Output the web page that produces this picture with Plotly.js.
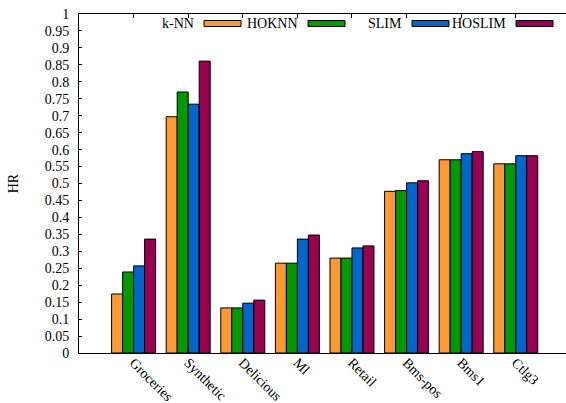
<!DOCTYPE html>
<html>
<head>
<meta charset="utf-8">
<script src="https://cdn.plot.ly/plotly-3.0.1.min.js"></script>
<style>html,body{margin:0;padding:0;background:#fff}#chart{width:566px;height:403px}</style>
</head>
<body>
<div id="chart"></div>
<script>
const categories = ["Groceries", "Synthetic", "Delicious", "Ml", "Retail", "Bms-pos", "Bms1", "Ctlg3"];
const seriesNames = ["k-NN", "HOKNN", "SLIM", "HOSLIM"];
const knn    = [0.174, 0.697, 0.133, 0.265, 0.280, 0.477, 0.570, 0.558];
const hoknn  = [0.239, 0.770, 0.133, 0.265, 0.280, 0.479, 0.570, 0.558];
const slim   = [0.257, 0.734, 0.147, 0.336, 0.310, 0.502, 0.588, 0.582];
const hoslim = [0.336, 0.861, 0.156, 0.348, 0.316, 0.508, 0.594, 0.582];
const yTickVals = [0,0.05,0.1,0.15,0.2,0.25,0.3,0.35,0.4,0.45,0.5,0.55,0.6,0.65,0.7,0.75,0.8,0.85,0.9,0.95,1];
const yTickText = ["0","0.05","0.1","0.15","0.2","0.25","0.3","0.35","0.4","0.45","0.5","0.55","0.6","0.65","0.7","0.75","0.8","0.85","0.9","0.95","1"];

const colors = ["#FF9933", "#009900", "#0066CC", "#990050"];
const allSeries = [knn, hoknn, slim, hoslim];
const font = "'Liberation Serif', 'Times New Roman', Times, serif";

const traces = allSeries.map((vals, i) => ({
  type: "bar",
  x: categories,
  y: vals,
  name: seriesNames[i],
  marker: {color: colors[i], line: {color: "#000", width: 1}},
  hoverinfo: "x+y+name"
}));

// plot area in pixels
const L = 79, R = 566, T = 14, B = 353;
const W = 566, H = 403;
function px(x) { return (x - L) / (R - L); }
function py(y) { return (B - y) / (B - T); }

const shapes = [];
const annotations = [];
const sampleLeft = [204, 308, 412, 516];
seriesNames.forEach((n, i) => {
  const sx = sampleLeft[i];
  shapes.push({type: "rect", xref: "paper", yref: "paper",
    x0: px(sx), x1: px(sx + 37), y0: py(26.5), y1: py(20.5),
    fillcolor: colors[i], line: {color: "#000", width: 1}});
  annotations.push({xref: "paper", yref: "paper", x: px(sx - 8), y: py(23.5),
    xanchor: "right", yanchor: "middle", text: n, showarrow: false,
    font: {family: font, size: 14, color: "#000"}});
});

const layout = {
  width: W, height: H,
  margin: {l: L, r: W - R, t: T, b: H - B, pad: 0},
  paper_bgcolor: "#fff", plot_bgcolor: "#fff",
  barmode: "group", bargap: 0.194, bargroupgap: 0,
  showlegend: false,
  font: {family: font, size: 14, color: "#000"},
  xaxis: {
    type: "category", range: [-1, 7.92],
    showline: true, linecolor: "#000", linewidth: 1, mirror: "ticks",
    ticks: "inside", ticklen: 4, tickcolor: "#000",
    tickangle: 45, showgrid: false, zeroline: false,
    ticklabelstandoff: -5,
    tickfont: {family: font, size: 14, color: "#000"}
  },
  yaxis: {
    range: [0, 1], tickvals: yTickVals, ticktext: yTickText,
    showline: true, linecolor: "#000", linewidth: 1, mirror: false,
    ticks: "inside", ticklen: 3, tickcolor: "#000",
    ticklabelstandoff: 6,
    showgrid: false, zeroline: false,
    tickfont: {family: font, size: 14, color: "#000"},
    title: {text: "HR", font: {family: font, size: 14, color: "#000"}, standoff: 22}
  },
  shapes: shapes,
  annotations: annotations
};

Plotly.newPlot("chart", traces, layout, {displayModeBar: false, staticPlot: true});
</script>
</body>
</html>
